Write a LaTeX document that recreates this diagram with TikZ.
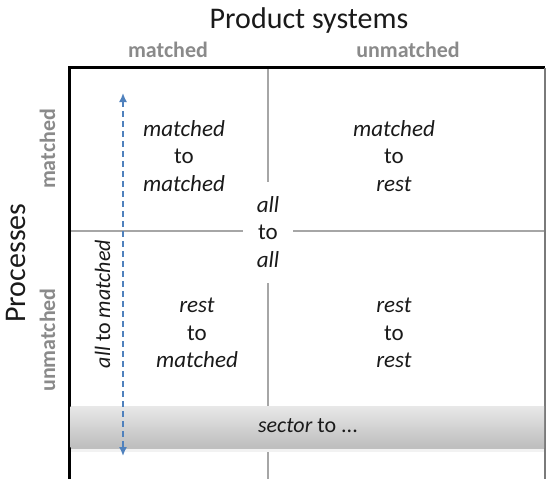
\documentclass[tikz,border=0pt]{standalone}
\usepackage{fontspec}
\setmainfont{Carlito}
\usetikzlibrary{arrows.meta}
\definecolor{hdrgray}{HTML}{8A8A8A}
\definecolor{divgray}{HTML}{A6A6A6}
\definecolor{edgegray}{HTML}{7A7A7A}
\definecolor{arrblue}{HTML}{4F81BD}
\definecolor{txt}{HTML}{1A1A1A}
\definecolor{bandtop}{HTML}{E8E8E8}
\definecolor{bandbot}{HTML}{BEBEBE}
\begin{document}
\begin{tikzpicture}[x=1pt,y=-1pt,
  titletext/.style={font=\fontsize{30}{36}\selectfont, inner sep=0pt, text=txt},
  hdr/.style={font=\fontsize{22}{26}\selectfont\bfseries, text=hdrgray, inner sep=0pt},
  cell/.style={font=\fontsize{23}{27.5}\selectfont, align=center, inner sep=0pt, text=txt},
  divline/.style={draw=divgray, line width=1.8pt},
  arr/.style={draw=arrblue, line width=1.6pt, dash pattern=on 6pt off 4pt,
    arrows={Latex[length=9pt,width=8pt]-Latex[length=9pt,width=8pt]}},
]
\useasboundingbox (0,0) rectangle (546,479);

% titles and headers
\node[titletext, anchor=base] (ps) at (309,28) {Product systems};
\node[titletext, anchor=base, rotate=90] (pr) at (25,263) {Processes};
\node[hdr, anchor=base] (hm) at (168,57) {matched};
\node[hdr, anchor=base] (hu) at (408,57) {unmatched};
\node[hdr, anchor=base, rotate=90] (vm) at (55,149) {matched};
\node[hdr, anchor=base, rotate=90] (vu) at (55,340) {unmatched};

% dividers
\draw[divline] (70,231) -- (243,231);
\draw[divline] (293,231) -- (545,231);
\draw[divline] (268,68) -- (268,182);
\draw[divline] (268,283) -- (268,480);

% frame
\draw[line width=3pt, line join=miter] (69,480) -- (69,67) -- (545,67);
\draw[draw=edgegray, line width=2pt] (545,68) -- (545,480);

% sector band
\fill[gray!10] (70.5,448) rectangle (544,452);
\shade[top color=bandtop, bottom color=bandbot] (70.5,406) rectangle (544,447);
\fill[gray!50] (70.5,447) rectangle (544,448.5);
\node[cell, anchor=base, font=\fontsize{22}{26}\selectfont] (sector) at (308,432) {\textit{sector} to ...};

% cell texts
\node[cell] (tl) at (184,156) {\textit{matched}\\to\\\textit{matched}};
\node[cell] (tr) at (394,156) {\textit{matched}\\to\\\textit{rest}};
\node[cell] (cc) at (268,232) {\textit{all}\\to\\\textit{all}};
\node[cell] (bl) at (197,333) {\textit{rest}\\to\\\textit{matched}};
\node[cell] (br) at (394,333) {\textit{rest}\\to\\\textit{rest}};

% all to matched arrow
\node[cell, anchor=base, rotate=90, font=\fontsize{22}{26}\selectfont] (allm) at (110,304) {\textit{all} to \textit{matched}};
\coordinate (atop) at (123,93);
\coordinate (abot) at (123,456);
\draw[arr] (atop) -- (abot);
\end{tikzpicture}
\end{document}
